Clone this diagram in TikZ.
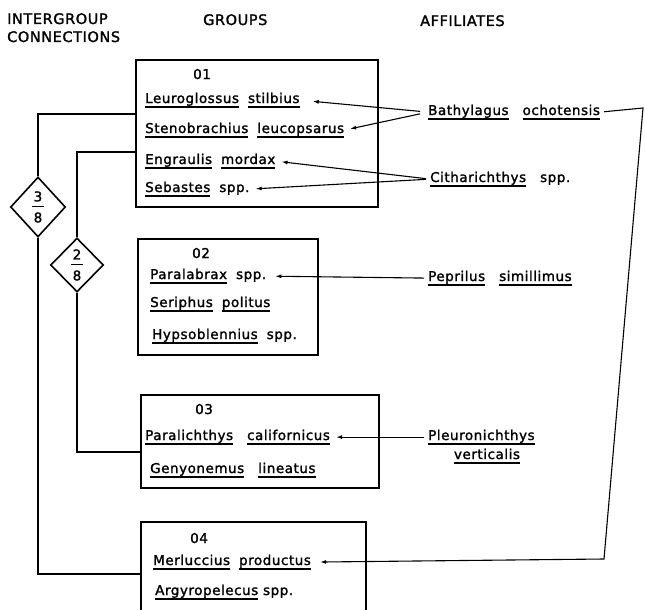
\documentclass[tikz,border=0pt]{standalone}
\usepackage{fontspec}
\setmainfont{DejaVu Sans}[LetterSpace=4, FakeBold=1.6]
\usetikzlibrary{shapes.geometric,arrows.meta}

\newsavebox\nmbox
\newcommand\nm[1]{\sbox\nmbox{#1}\rlap{\rule[-4.5pt]{\wd\nmbox}{1.3pt}}\usebox\nmbox}
\newcommand\gap{\hspace{9pt}}
\newcommand\wgap{\hspace{14pt}}

\begin{document}
\begin{tikzpicture}[x=1pt,y=-1pt,
	grp/.style={draw, line width=1.8pt, anchor=north west, inner sep=0},
	sp/.style={anchor=base west, inner sep=0, font=\fontsize{13.5}{16}\selectfont},
	hd/.style={anchor=base west, inner sep=0, font=\fontsize{14.5}{17}\selectfont},
	frac/.style={draw, shape=diamond, line width=1.6pt, inner sep=0, align=center, font=\fontsize{13.5}{10}\selectfont},
	conn/.style={line width=1.2pt},
	link/.style={line width=1.1pt, -{Latex[length=6pt,width=4pt]}, shorten >=6pt, shorten <=4pt}]

	\useasboundingbox (0,0) rectangle (645,610);

	% headings
	\node[hd] (h1) at (7,24)    {INTERGROUP};
	\node[hd] (h2) at (7,42)    {CONNECTIONS};
	\node[hd] (h3) at (203,25)  {GROUPS};
	\node[hd] (h4) at (420,26)  {AFFILIATES};

	% groups
	\node[grp, minimum width=242, minimum height=147] (g1) at (135,59)  {};
	\node[grp, minimum width=180, minimum height=116] (g2) at (137,238) {};
	\node[grp, minimum width=238, minimum height=93]  (g3) at (140,394) {};
	\node[grp, minimum width=225, minimum height=104] (g4) at (140,521) {};

	\node[sp] (n0) at (193,79)   {01};
	\node[sp] (n1) at (145,103)  {\nm{Leuroglossus}\gap\nm{stilbius}};
	\node[sp] (n2) at (145,133)  {\nm{Stenobrachius}\gap\nm{leucopsarus}};
	\node[sp] (n3) at (145,164)  {\nm{Engraulis}\gap\nm{mordax}};
	\node[sp] (n4) at (145,192)  {\nm{Sebastes}\gap spp.};

	\node[sp] (m0) at (192,258)  {02};
	\node[sp] (m1) at (150,279)  {\nm{Paralabrax}\gap spp.};
	\node[sp] (m2) at (150,307)  {\nm{Seriphus}\gap\nm{politus}};
	\node[sp] (m3) at (152,339)  {\nm{Hypsoblennius}\gap spp.};

	\node[sp] (k0) at (195,414)  {03};
	\node[sp] (k1) at (145,440)  {\nm{Paralichthys}\wgap\nm{californicus}};
	\node[sp] (k2) at (150,473)  {\nm{Genyonemus}\wgap\nm{lineatus}};

	\node[sp] (j0) at (190,543)  {04};
	\node[sp] (j1) at (153,565)  {\nm{Merluccius}\gap\nm{productus}};
	\node[sp] (j2) at (155,595)  {\nm{Argyropelecus} spp.};

	% affiliates
	\node[sp] (a1) at (428,115)  {\nm{Bathylagus}\wgap\nm{ochotensis}};
	\node[sp] (a2) at (430,182)  {\nm{Citharichthys}\wgap spp.};
	\node[sp] (a3) at (428,281)  {\nm{Peprilus}\wgap\nm{simillimus}};
	\node[sp] (a4) at (428,440)  {\nm{Pleuronichthys}};
	\node[sp, anchor=base] (a5) at (487,459) {\nm{verticalis}};

	% intergroup connections
	\node[frac, minimum width=55, minimum height=60] (d3) at (38,207) {3\\\rule[4pt]{12pt}{1.5pt}\\8};
	\node[frac, minimum width=53, minimum height=54] (d2) at (77,265) {2\\\rule[4pt]{12pt}{1.5pt}\\8};

	\draw[conn] ([yshift=19.5pt]g1.west) -| (d3.north);
	\draw[conn] (d3.south) |- (g4.west);
	\draw[conn] ([yshift=-18.5pt]g1.west) -| (d2.north);
	\draw[conn] (d2.south) |- ([yshift=-10.5pt]g3.west);

	\coordinate (r1) at (643,108);
	\coordinate (r2) at (604,559);

	\draw[link, shorten >=13pt, shorten <=8pt] (a1.west) -- (n1.east);
	\draw[link, shorten <=8pt] (a1.west) -- (n2.east);
	\draw[link] (a2.west) -- (n3.east);
	\draw[link] (a2.west) -- (n4.east);
	\draw[link, shorten >=9pt] (a3.west) -- (m1.east);
	\draw[link] (a4.west) -- (k1.east);
	\draw[link, shorten >=9pt] (a1.east) -- (r1) -- (r2) -- (j1.east);

\end{tikzpicture}
\end{document}
